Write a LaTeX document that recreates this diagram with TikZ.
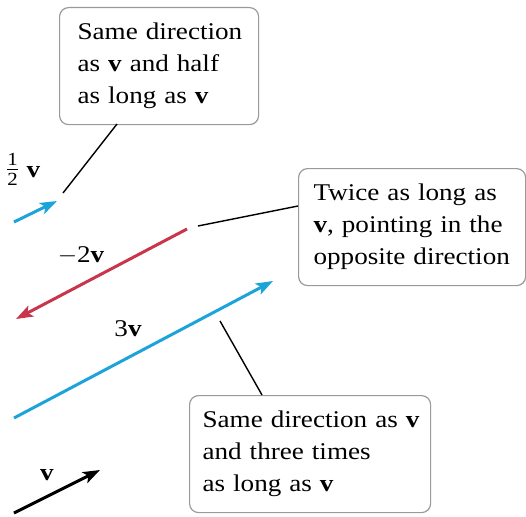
\documentclass[tikz,border=0pt]{standalone}
\usepackage{fontspec}
\setmainfont{Liberation Serif}[FakeStretch=1.13]
\usetikzlibrary{arrows.meta}
\definecolor{vblue}{HTML}{1CA3DA}
\definecolor{vred}{HTML}{C9354B}
\definecolor{boxgray}{HTML}{9A9A9A}
\newcommand{\fracpiece}[2]{\raisebox{#1}{\makebox[11pt][c]{\fontsize{18.5}{18.5}\selectfont #2}}}
\tikzset{
  every node/.style={font=\fontsize{24}{32}\selectfont},
  box/.style={draw=boxgray, line width=1.2pt, rounded corners=9pt, anchor=north west,
    align=left, inner ysep=0pt},
  vec/.style={line width=3pt, -{Stealth[length=17pt,width=12pt,inset=4pt]}},
  lead/.style={line width=1.4pt, black},
  lbl/.style={anchor=base, inner sep=0pt}
}
\begin{document}
\begin{tikzpicture}[x=1pt,y=-1pt]
\useasboundingbox (0,0) rectangle (526,516);
% boxes
\node[box, minimum height=117pt, inner xsep=18pt, text width=163pt] (b1) at (59,7)
  {\mbox{Same direction}\\\mbox{as \textbf{v} and half}\\\mbox{as long as \textbf{v}}};
\node[box, minimum height=117pt, inner xsep=15pt, text width=197pt] (b2) at (298,168)
  {\mbox{Twice as long as}\\\mbox{\textbf{v}, pointing in the}\\\mbox{opposite direction}};
\node[box, minimum height=117pt, inner xsep=13pt, text width=215pt] (b3) at (189,395)
  {\mbox{Same direction as \textbf{v}}\\\mbox{and three times}\\\mbox{as long as \textbf{v}}};
% vectors
\coordinate (vt) at (14,513); \coordinate (vh) at (100,470);
\coordinate (ht) at (14,222); \coordinate (hh) at (57,201);
\coordinate (rt) at (187,229); \coordinate (rh) at (16,319);
\coordinate (tt) at (14,418); \coordinate (th) at (273,281);
\draw[vec, black] (vt) -- (vh);
\draw[vec, vblue] (ht) -- (hh);
\draw[vec, vred] (rt) -- (rh);
\draw[vec, vblue] (tt) -- (th);
% labels
\node[lbl] (lv) at (47,480) {\textbf{v}};
\node[lbl, anchor=base west] (lh) at (7,177)
  {\fracpiece{12pt}{1}\hspace{-11pt}\raisebox{7.6pt}{\rule{11pt}{0.9pt}}\hspace{-11pt}\fracpiece{-8pt}{2}\hspace{8.5pt}\textbf{v}};
\node[lbl] (lr) at (81,262) {$-$2\textbf{v}};
\node[lbl] (lt) at (128,336) {3\textbf{v}};
% leaders
\coordinate (l1a) at (117,124); \coordinate (l1b) at (63,193);
\coordinate (l2a) at (298,206); \coordinate (l2b) at (198,226);
\coordinate (l3a) at (262,395); \coordinate (l3b) at (220,321);
\draw[lead] (l1a) -- (l1b);
\draw[lead] (l2a) -- (l2b);
\draw[lead] (l3a) -- (l3b);
\end{tikzpicture}
\end{document}
